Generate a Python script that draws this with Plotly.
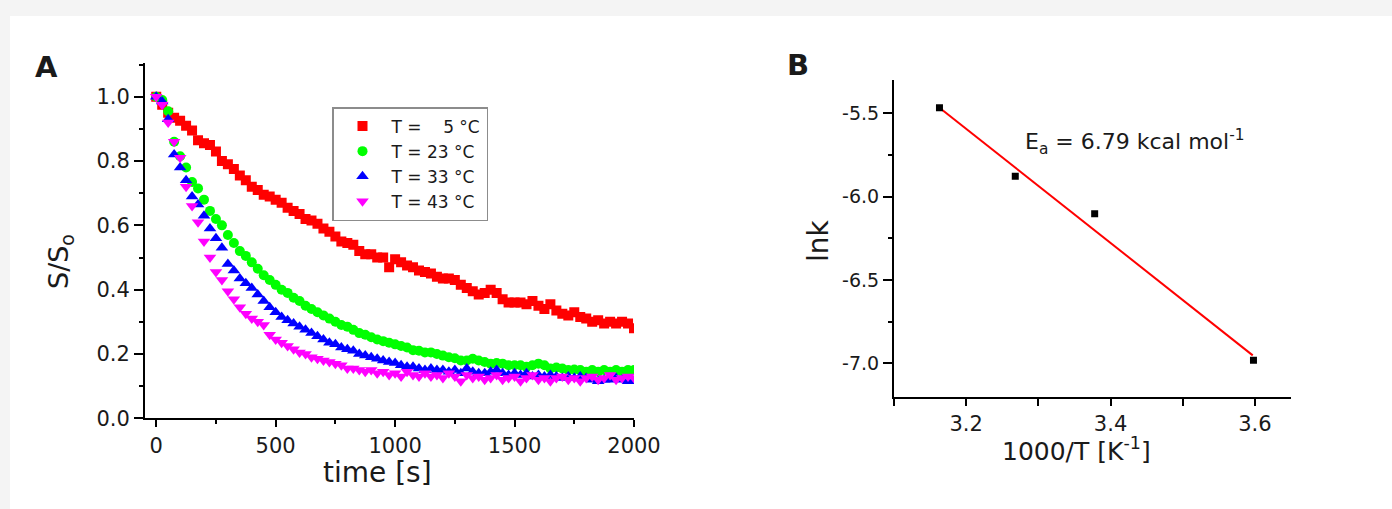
import plotly.graph_objects as go

# ---------------- data ----------------
time_s = list(range(0, 2001, 25))

s_5C = [1.0, 0.975, 0.95, 0.935, 0.925, 0.91, 0.895, 0.865, 0.855, 0.85,
        0.83, 0.80, 0.79, 0.775, 0.755, 0.74, 0.72, 0.71, 0.695, 0.69,
        0.68, 0.67, 0.655, 0.645, 0.635, 0.62, 0.615, 0.605, 0.59, 0.58,
        0.565, 0.55, 0.545, 0.54, 0.52, 0.51, 0.51, 0.50, 0.50, 0.47,
        0.495, 0.485, 0.475, 0.47, 0.46, 0.455, 0.45, 0.44, 0.435, 0.435,
        0.43, 0.415, 0.405, 0.395, 0.385, 0.39, 0.40, 0.39, 0.37, 0.36,
        0.36, 0.36, 0.355, 0.365, 0.35, 0.34, 0.355, 0.335, 0.325, 0.32,
        0.33, 0.315, 0.31, 0.30, 0.305, 0.295, 0.30, 0.295, 0.30, 0.295,
        0.28]

s_23C = [1.0, 0.99, 0.955, 0.86, 0.815, 0.78, 0.735, 0.715, 0.68, 0.645,
         0.62, 0.60, 0.57, 0.545, 0.52, 0.505, 0.485, 0.465, 0.445, 0.43,
         0.415, 0.40, 0.39, 0.375, 0.365, 0.35, 0.34, 0.33, 0.32, 0.31,
         0.30, 0.29, 0.285, 0.275, 0.265, 0.26, 0.252, 0.245, 0.24, 0.235,
         0.23, 0.225, 0.22, 0.212, 0.21, 0.205, 0.205, 0.20, 0.195, 0.19,
         0.187, 0.18, 0.18, 0.185, 0.18, 0.175, 0.17, 0.172, 0.17, 0.165,
         0.165, 0.165, 0.16, 0.165, 0.17, 0.165, 0.155, 0.158, 0.155, 0.15,
         0.152, 0.15, 0.145, 0.15, 0.145, 0.15, 0.145, 0.15, 0.145, 0.15,
         0.15]

s_33C = [1.0, 0.985, 0.93, 0.82, 0.78, 0.74, 0.69, 0.665, 0.63, 0.59,
         0.56, 0.53, 0.48, 0.46, 0.435, 0.42, 0.405, 0.385, 0.365, 0.345,
         0.33, 0.315, 0.305, 0.295, 0.285, 0.275, 0.265, 0.255, 0.245, 0.235,
         0.23, 0.22, 0.215, 0.21, 0.20, 0.195, 0.19, 0.185, 0.18, 0.175,
         0.172, 0.165, 0.16, 0.16, 0.155, 0.15, 0.155, 0.15, 0.15, 0.145,
         0.15, 0.14, 0.155, 0.145, 0.14, 0.14, 0.145, 0.15, 0.14, 0.135,
         0.14, 0.135, 0.14, 0.13, 0.135, 0.13, 0.135, 0.13, 0.125, 0.13,
         0.125, 0.13, 0.125, 0.12, 0.115, 0.12, 0.12, 0.125, 0.12, 0.115,
         0.115]

s_43C = [1.0, 0.975, 0.92, 0.86, 0.81, 0.72, 0.66, 0.61, 0.55, 0.50,
         0.455, 0.43, 0.395, 0.37, 0.345, 0.325, 0.31, 0.30, 0.29, 0.26,
         0.245, 0.235, 0.225, 0.215, 0.205, 0.20, 0.19, 0.185, 0.18, 0.175,
         0.17, 0.165, 0.155, 0.155, 0.15, 0.145, 0.15, 0.14, 0.145, 0.135,
         0.14, 0.13, 0.145, 0.135, 0.13, 0.14, 0.13, 0.135, 0.125, 0.14,
         0.13, 0.115, 0.135, 0.125, 0.13, 0.12, 0.125, 0.135, 0.12, 0.125,
         0.13, 0.115, 0.125, 0.135, 0.12, 0.125, 0.115, 0.125, 0.13, 0.12,
         0.125, 0.115, 0.125, 0.13, 0.12, 0.125, 0.135, 0.12, 0.125, 0.13,
         0.125]

series_labels = ["T = \u00a0\u00a0\u00a05 \u00b0C", "T = 23 \u00b0C", "T = 33 \u00b0C", "T = 43 \u00b0C"]

inv_T = [3.163, 3.268, 3.378, 3.598]
ln_k = [-5.466, -5.878, -6.102, -6.982]
fit_x = [3.163, 3.597]
fit_y = [-5.466, -6.952]

a_xtickvals = [0, 500, 1000, 1500, 2000]
a_ytickvals = [0.0, 0.2, 0.4, 0.6, 0.8, 1.0]
a_yticktext = ["0.0", "0.2", "0.4", "0.6", "0.8", "1.0"]
b_xtickvals = [3.2, 3.4, 3.6]
b_ytickvals = [-5.5, -6.0, -6.5, -7.0]
b_yticktext = ["-5.5", "-6.0", "-6.5", "-7.0"]

# ---------------- figure ----------------
W, H = 1392, 509
FONT = "DejaVu Sans, Liberation Sans, Arial, sans-serif"
TXT = "#1a1a1a"


def px(x):
    return x / W


def py(y):
    return 1 - y / H


fig = go.Figure()

series = [s_5C, s_23C, s_33C, s_43C]
colors = ["#ff0000", "#00ff00", "#0000ff", "#ff00ff"]
symbols = ["square", "circle", "triangle-up", "triangle-down"]
sizes = [10, 10, 11, 11]
for vals, lab, col, sym, sz in zip(series, series_labels, colors, symbols, sizes):
    fig.add_trace(go.Scatter(
        x=time_s, y=vals, mode="markers", name=lab,
        marker=dict(color=col, symbol=sym, size=sz, line=dict(width=0)),
        xaxis="x", yaxis="y"))

fig.add_trace(go.Scatter(
    x=fit_x, y=fit_y, mode="lines", line=dict(color="#ff0000", width=2),
    showlegend=False, xaxis="x2", yaxis="y2"))
fig.add_trace(go.Scatter(
    x=inv_T, y=ln_k, mode="markers",
    marker=dict(color="black", symbol="square", size=7, line=dict(width=0)),
    showlegend=False, xaxis="x2", yaxis="y2"))

axis_common = dict(showgrid=False, zeroline=False, showline=True, linecolor="black",
                   linewidth=2, ticks="outside", tickcolor="black", tickwidth=1.5,
                   automargin=False,
                   tickfont=dict(family=FONT, size=21, color=TXT))

fig.update_layout(
    width=W, height=H, autosize=False,
    margin=dict(l=0, r=0, t=0, b=0, pad=0, autoexpand=False),
    paper_bgcolor="#f4f4f4",
    plot_bgcolor="rgba(0,0,0,0)",
    font=dict(family=FONT, color=TXT),
    xaxis=dict(axis_common, domain=[px(145), px(634)], range=[-47, 2000],
               tickvals=a_xtickvals, ticklen=7,
               minor=dict(dtick=250, ticks="outside", ticklen=4, tickwidth=1.5, tickcolor="black"),
               anchor="y"),
    yaxis=dict(axis_common, domain=[py(418.3), py(63.3)], range=[0, 1.104],
               tickvals=a_ytickvals, ticktext=a_yticktext, ticklen=9,
               minor=dict(dtick=0.1, ticks="outside", ticklen=4, tickwidth=1.5, tickcolor="black"),
               anchor="x"),
    xaxis2=dict(axis_common, domain=[px(894), px(1291)], range=[3.1, 3.65],
                tickvals=b_xtickvals, ticklen=7,
                minor=dict(tick0=3.1, dtick=0.1, ticks="outside", ticklen=7, tickwidth=1.5, tickcolor="black"),
                anchor="y2"),
    yaxis2=dict(axis_common, domain=[py(396.7), py(80)], range=[-7.2, -5.3],
                tickvals=b_ytickvals, ticktext=b_yticktext, ticklen=9,
                tickfont=dict(family=FONT, size=19, color=TXT),
                minor=dict(tick0=-5.25, dtick=0.25, ticks="outside", ticklen=4, tickwidth=1.5, tickcolor="black"),
                anchor="x2"),
    legend=dict(x=px(332), y=py(107), xanchor="left", yanchor="top",
                bgcolor="white", bordercolor="#8c8c8c", borderwidth=1.5,
                font=dict(family=FONT, size=17, color=TXT),
                itemwidth=48, tracegroupgap=0),
    shapes=[dict(type="rect", xref="paper", yref="paper", layer="below",
                 x0=px(10), x1=1.0, y0=0, y1=py(16),
                 fillcolor="white", line=dict(width=0))],
)

ann = [
    dict(text="<b>A</b>", x=px(46), y=py(67), size=29),
    dict(text="<b>B</b>", x=px(798), y=py(65), size=29),
    dict(text="time [s]", x=px(377), y=py(472), size=28),
    dict(text="S/S<sub>o</sub>", x=px(60), y=py(262), size=27, angle=-90),
    dict(text="lnk", x=px(818), y=py(241), size=28, angle=-90),
    dict(text="1000/T [K<sup>-1</sup>]", x=px(1076), y=py(449), size=25),
]
for a in ann:
    fig.add_annotation(text=a["text"], x=a["x"], y=a["y"], xref="paper", yref="paper",
                       showarrow=False, xanchor="center", yanchor="middle",
                       textangle=a.get("angle", 0),
                       font=dict(family=FONT, size=a["size"], color=TXT))

fig.add_annotation(text="E<sub>a</sub> = 6.79 kcal mol<sup>-1</sup>", x=px(1023), y=py(142),
                   xref="paper", yref="paper", showarrow=False, xanchor="left", yanchor="middle",
                   font=dict(family=FONT, size=22, color=TXT))

fig.write_html("out.html",
               config={"displayModeBar": False, "responsive": False},
               post_script="document.body.style.margin='0';document.body.style.overflow='hidden';")
